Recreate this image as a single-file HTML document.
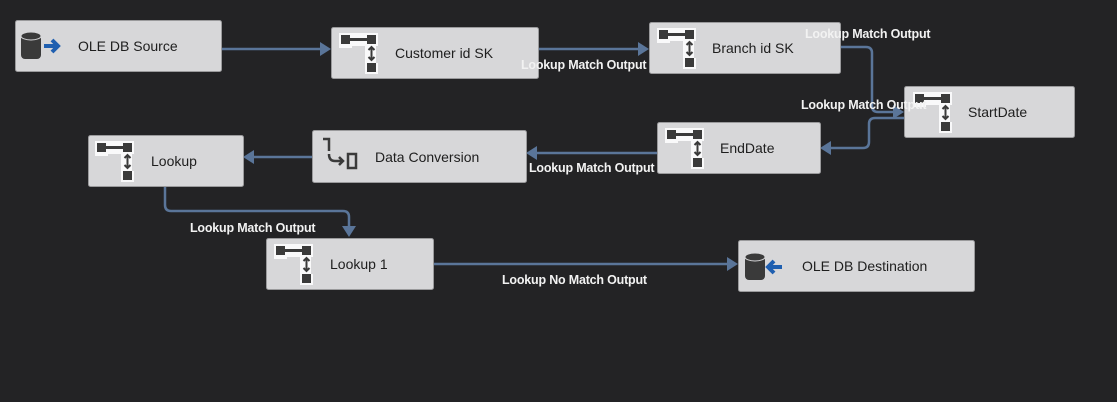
<!DOCTYPE html>
<html><head><meta charset="utf-8"><style>
html,body{margin:0;padding:0;background:#232325;}
svg{display:block}
.box{fill:#d7d7d9;stroke:#9a9a9c;stroke-width:1}
.t{font-family:"Liberation Sans",sans-serif;font-size:14px;fill:#1e1e1e}
.l{font-family:"Liberation Sans",sans-serif;font-size:12.5px;fill:#f2f2f2;font-weight:bold;letter-spacing:-0.2px}
.c{fill:none;stroke:#5a7599;stroke-width:2.5}
.a{fill:#5a7599}
</style></head><body>
<svg width="1117" height="402" viewBox="0 0 1117 402" xmlns="http://www.w3.org/2000/svg">
<rect width="1117" height="402" fill="#232325"/>
<defs>
<g id="lk">
<path d="M-2 -2 L37 -2 L37 11 L35 11 L35 28 L37 28 L37 39 L24 39 L24 11 L11 11 L11 13 L-2 13 Z" fill="#fff" opacity="0.85"/>
<rect x="0" y="0" width="9" height="9" fill="#3a3a3a"/>
<rect x="26" y="0" width="9" height="9" fill="#3a3a3a"/>
<rect x="8" y="3" width="19" height="3" fill="#3a3a3a"/>
<rect x="26" y="28" width="9" height="9" fill="#3a3a3a"/>
<path d="M30.5 12 L30.5 25 M27.5 15 L30.5 12 L33.5 15 M27.5 22 L30.5 25 L33.5 22" stroke="#3a3a3a" stroke-width="2" fill="none"/>
</g>
</defs>
<!-- connectors -->
<path class="c" d="M221 49 L324 49"/><path class="a" d="M331 49 L320 42 L320 56Z"/>
<path class="c" d="M538 49 L642 49"/><path class="a" d="M649 49 L638 42 L638 56Z"/>
<path class="c" d="M840 47 L866 47 Q872 47 872 53 L872 106 Q872 112 878 112 L897 112"/><path class="a" d="M904 112 L893 105 L893 119Z"/>
<path class="c" d="M904 118 L875 118 Q869 118 869 124 L869 142 Q869 148 863 148 L827 148"/><path class="a" d="M820 148 L831 141 L831 155Z"/>
<path class="c" d="M657 153 L533 153"/><path class="a" d="M526 153 L537 146 L537 160Z"/>
<path class="c" d="M312 157 L250 157"/><path class="a" d="M243 157 L254 150 L254 164Z"/>
<path class="c" d="M165 186 L165 205 Q165 211 171 211 L343 211 Q349 211 349 217 L349 230"/><path class="a" d="M349 237 L342 226 L356 226Z"/>
<path class="c" d="M433 264 L731 264"/><path class="a" d="M738 264 L727 257 L727 271Z"/>
<!-- boxes -->
<rect class="box" x="15.5" y="20.5" width="206" height="51" rx="2"/>
<rect class="box" x="331.5" y="27.5" width="207" height="51" rx="2"/>
<rect class="box" x="649.5" y="22.5" width="191" height="51" rx="2"/>
<rect class="box" x="904.5" y="86.5" width="170" height="51" rx="2"/>
<rect class="box" x="657.5" y="122.5" width="163" height="51" rx="2"/>
<rect class="box" x="312.5" y="130.5" width="214" height="52" rx="2"/>
<rect class="box" x="88.5" y="135.5" width="155" height="51" rx="2"/>
<rect class="box" x="266.5" y="238.5" width="167" height="51" rx="2"/>
<rect class="box" x="738.5" y="240.5" width="236" height="51" rx="2"/>
<!-- icons -->
<g transform="translate(21,31)"><rect x="0" y="4" width="20" height="24" rx="4" fill="#3a3a3a"/><ellipse cx="10" cy="5" rx="10" ry="4" fill="#3a3a3a" stroke="#d7d7d9" stroke-width="1"/><path d="M23 15 L37 15 M31 9 L37 15 L31 21" stroke="#1f5fb0" stroke-width="4" fill="none"/></g>
<use href="#lk" x="341" y="35"/>
<use href="#lk" x="659" y="30"/>
<use href="#lk" x="915" y="94"/>
<use href="#lk" x="667" y="130"/>
<use href="#lk" x="97" y="143"/>
<use href="#lk" x="276" y="246"/>
<g transform="translate(323,138)"><path d="M0 1 L6 1 L6 13" stroke="#3a3a3a" stroke-width="2.5" fill="none"/><path d="M6 16 Q6 23 12 23 L20 23 M16 19 L20 23 L16 27" stroke="#3a3a3a" stroke-width="2.5" fill="none"/><rect x="25" y="16" width="8" height="14" fill="none" stroke="#3a3a3a" stroke-width="2.5"/></g>
<g transform="translate(745,252)"><rect x="0" y="4" width="20" height="24" rx="4" fill="#3a3a3a"/><ellipse cx="10" cy="5" rx="10" ry="4" fill="#3a3a3a" stroke="#d7d7d9" stroke-width="1"/><path d="M37 15 L23 15 M29 9 L23 15 L29 21" stroke="#1f5fb0" stroke-width="4" fill="none"/></g>
<!-- text -->
<text class="t" x="78" y="51">OLE DB Source</text>
<text class="t" x="395" y="58">Customer id SK</text>
<text class="t" x="712" y="53">Branch id SK</text>
<text class="t" x="968" y="117">StartDate</text>
<text class="t" x="720" y="153">EndDate</text>
<text class="t" x="375" y="162">Data Conversion</text>
<text class="t" x="151" y="166">Lookup</text>
<text class="t" x="330" y="269">Lookup 1</text>
<text class="t" x="802" y="271">OLE DB Destination</text>
<text class="l" x="521" y="69">Lookup Match Output</text>
<text class="l" x="805" y="38">Lookup Match Output</text>
<text class="l" x="801" y="109">Lookup Match Output</text>
<text class="l" x="529" y="172">Lookup Match Output</text>
<text class="l" x="190" y="232">Lookup Match Output</text>
<text class="l" x="502" y="284">Lookup No Match Output</text>
</svg>
</body></html>
